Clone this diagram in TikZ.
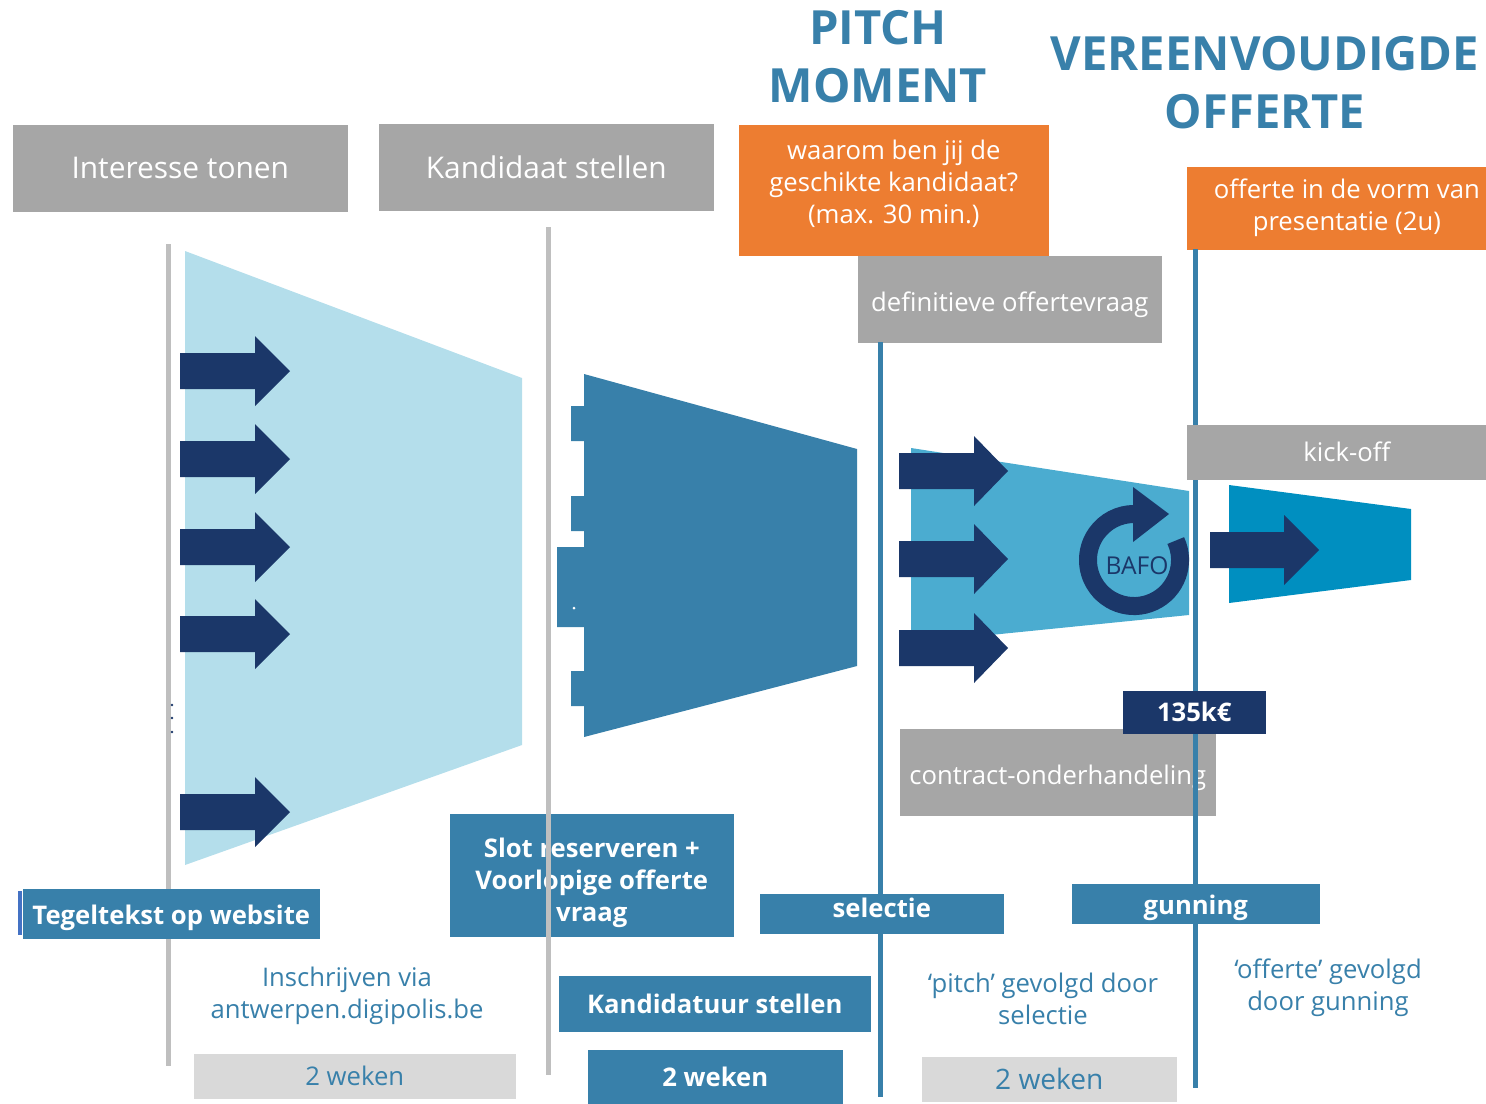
\documentclass[tikz,border=0pt]{standalone}
\usepackage{fontspec}
\setmainfont{Open Sans}
\usetikzlibrary{positioning}

\definecolor{boxgrey}{HTML}{A6A6A6}
\definecolor{lightgrey}{HTML}{D9D9D9}
\definecolor{linegrey}{HTML}{BFBFBF}
\definecolor{steel}{HTML}{3880AA}
\definecolor{navy}{HTML}{1B3769}
\definecolor{paleblue}{HTML}{B4DEEB}
\definecolor{midblue}{HTML}{4BACD0}
\definecolor{teal}{HTML}{008FC0}
\definecolor{orangebox}{HTML}{ED7D31}
\definecolor{edgeblue}{HTML}{4472C4}

\newcommand{\regular}{\fontsize{7.3}{9.1}\selectfont}
\newcommand{\heavy}{\fontsize{7.3}{9.1}\selectfont\bfseries}

\tikzset{
	box/.style={anchor=north west, inner sep=0pt, align=center},
	greybox/.style={box, fill=boxgrey, text=white, font=\regular},
	orangecard/.style={box, fill=orangebox, text=white, font=\regular},
	bluebox/.style={box, fill=steel, text=white, font=\heavy},
	palebox/.style={box, fill=lightgrey, text=steel, font=\regular},
	navybox/.style={box, fill=navy, text=white, font=\heavy},
	bluetext/.style={text=steel, align=center, font=\regular},
	headline/.style={text=steel, align=center, font=\fontsize{13.4}{16.5}\selectfont\bfseries},
	greyline/.style={draw=linegrey, line width=0.05cm},
	blueline/.style={draw=steel, line width=0.05cm},
}

\begin{document}
\begin{tikzpicture}[x=0.01cm, y=-0.01cm]
	\useasboundingbox (0,0) rectangle (1486,1103);
	\clip (0,0) rectangle (1486,1103);

	\draw[greyline] (168,244) -- (168,1066);

	\fill[paleblue] (185,251) -- (522,378) -- (522,745) -- (185,865) -- cycle;
	\fill[steel] (584,374) -- (857,449) -- (857,666) -- (584,737) -- (584,706) -- (571,706) -- (571,671)
		-- (584,671) -- (584,627) -- (557,627) -- (557,547) -- (584,547) -- (584,531) -- (571,531)
		-- (571,496) -- (584,496) -- (584,441) -- (571,441) -- (571,406) -- (584,406) -- cycle;
	\fill[white] (574,608) circle(1.5);
	\fill[midblue] (911,448) -- (1189,491) -- (1189,615) -- (911,643) -- cycle;
	\fill[teal] (1229,485) -- (1411,509) -- (1411,580) -- (1229,603) -- cycle;

	\foreach \y in {371,459,547,634,812}
		\fill[navy] (180,\y-18) -- (255,\y-18) -- (255,\y-35) -- (290,\y) -- (255,\y+35) -- (255,\y+18) -- (180,\y+18) -- cycle;
	\foreach \y in {471,559,648}
		\fill[navy] (899,\y-18) -- (974,\y-18) -- (974,\y-35) -- (1008,\y) -- (974,\y+35) -- (974,\y+18) -- (899,\y+18) -- cycle;
	\fill[navy] (1210,532) -- (1284,532) -- (1284,515) -- (1319,550) -- (1284,585) -- (1284,568) -- (1210,568) -- cycle;
	\foreach \y in {705,718,732}
		\fill[navy] (172,\y) circle(1.3);

	\coordinate (ring) at (1134,560);
	\draw[navy, line width=0.18cm] ([shift={(25:0.46cm)}]ring) arc[start angle=25, end angle=-270, radius=0.46cm];
	\fill[navy] (1133,487) -- (1169,514) -- (1133,542) -- cycle;
	\node[text=navy, font=\fontsize{7}{8}\selectfont] (bafo) at (1137,566) {BAFO};

	\node[greybox, font=\fontsize{8.5}{10}\selectfont, minimum width=3.35cm, minimum height=0.87cm] (interesse) at (12,124) {Interesse tonen};
	\node[greybox, font=\fontsize{8.5}{10}\selectfont, minimum width=3.35cm, minimum height=0.87cm] (kandidaat) at (378,123) {Kandidaat stellen};
	\node[orangecard, text depth=0.17cm, minimum width=3.10cm, minimum height=1.31cm] (waarom) at (738,124) {waarom ben jij de\\geschikte kandidaat?\\(max. 30 min.)};
	\node[orangecard, minimum width=3.20cm, minimum height=0.83cm] (vorm) at (1186,166) {offerte in de vorm van\\presentatie (2u)};
	\node[greybox, text height=0.31cm, minimum width=3.04cm, minimum height=0.87cm] (definitief) at (857,255) {definitieve offertevraag};
	\node[headline] (pitch) at (878,57) {PITCH\\MOMENT};
	\node[headline] (vereenvoudigd) at (1265,83) {VEREENVOUDIGDE\\OFFERTE};

	\node[greybox, text height=0.31cm, minimum width=3.16cm, minimum height=0.87cm] (contract) at (899,728) {contract-onderhandeling};

	\draw[greyline] (548,227) -- (548,813);
	\node[bluebox, text height=0.99cm, minimum width=2.84cm, minimum height=1.23cm] (slot) at (449,813) {Slot reserveren +\\Voorlopige offerte\\vraag};
	\draw[greyline] (548,813) -- (548,1075);

	\draw[blueline] (880,342) -- (880,1097);
	\draw[blueline] (1195,249) -- (1195,1088);

	\node[greybox, minimum width=3.20cm, minimum height=0.55cm] (kickoff) at (1186,424) {kick-off};
	\node[navybox, minimum width=1.43cm, minimum height=0.43cm] (bedrag) at (1122,690) {135k€};

	\fill[edgeblue] (18,891) rectangle (22,935);
	\node[bluebox, text height=0.27cm, minimum width=2.97cm, minimum height=0.50cm] (tegel) at (22,888) {Tegeltekst op website};
	\node[bluebox, text depth=0.12cm, minimum width=2.44cm, minimum height=0.40cm] (selectie) at (759,893) {selectie};
	\node[bluebox, text height=0.27cm, minimum width=2.48cm, minimum height=0.40cm] (gunning) at (1071,883) {gunning};
	\node[bluebox, minimum width=3.12cm, minimum height=0.56cm] (kandidatuur) at (558,975) {Kandidatuur stellen};
	\node[bluebox, minimum width=2.55cm, minimum height=0.54cm] (wekentwee) at (587,1049) {2 weken};
	\node[palebox, minimum width=3.22cm, minimum height=0.45cm] (wekeneen) at (193,1053) {2 weken};
	\node[palebox, font=\fontsize{8}{9.5}\selectfont, minimum width=2.55cm, minimum height=0.45cm] (wekendrie) at (921,1056) {2 weken};

	\node[bluetext] (inschrijven) at (347,996) {Inschrijven via\\antwerpen.digipolis.be};
	\node[bluetext] (pitchsel) at (1043,999) {‘pitch’ gevolgd door\\selectie};
	\node[bluetext] (offgun) at (1328,988) {‘offerte’ gevolgd\\door gunning};
\end{tikzpicture}
\end{document}
